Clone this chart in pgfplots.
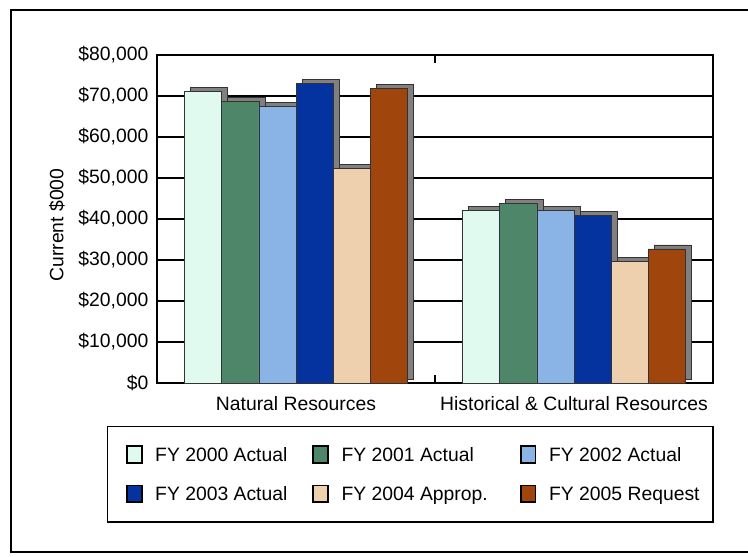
\documentclass[border=0pt]{standalone}
\usepackage{fontspec}
\setmainfont{Liberation Sans}
\usepackage{pgfplots}
\pgfplotsset{compat=1.18}
\usetikzlibrary{shadows}
\definecolor{c0}{HTML}{E0FAF0}
\definecolor{c1}{HTML}{4E866A}
\definecolor{c2}{HTML}{8BB4E6}
\definecolor{c3}{HTML}{0433A0}
\definecolor{c4}{HTML}{EED0AE}
\definecolor{c5}{HTML}{A0460C}
\definecolor{shadowgray}{HTML}{808080}
\newcommand{\lf}{\fontsize{14.5}{17}\selectfont}
\tikzset{myshadow/.style={drop shadow={shadow xshift=4.5pt, shadow yshift=3pt, fill=shadowgray, opacity=1}}}
\pgfplotsset{
  sq/.style={legend image code/.code={\fill[black] (0pt,-6.5pt) rectangle (11.5pt,6.5pt); \fill[#1] (1.4pt,-5.1pt) rectangle (10.1pt,5.1pt); \path (21pt,0pt);}},
  barst/.style={fill=#1, draw=black!80, line width=0.6pt, myshadow, forget plot},
}
\begin{document}
\begin{tikzpicture}
\useasboundingbox (0,0) rectangle (561pt,417pt);
\draw[line width=1.5pt] (570pt,409.5pt) -- (8.25pt,409.5pt) -- (8.25pt,3pt) -- (570pt,3pt);
\begin{axis}[
  at={(117.75pt,129.75pt)}, anchor=south west,
  scale only axis, width=417pt, height=246pt,
  xmin=-0.5, xmax=1.5, ymin=0, ymax=80000,
  enlargelimits=false,
  ybar=0pt, bar width=0.1333,
  axis line style={line width=1.4pt, black},
  ymajorgrids, grid style={line width=1.2pt, black},
  ytick={0,10000,...,80000},
  scaled y ticks=false,
  yticklabel={\$\pgfmathprintnumber[assume math mode=true,1000 sep={,}]{\tick}},
  xtick={0,1},
  xticklabels={Natural Resources, Historical \& Cultural Resources},
  major tick length=0pt,
  extra x ticks={0.5}, extra x tick labels={},
  extra x tick style={major tick length=6pt, tick align=inside, tick style={black, line width=1pt}, grid=none},
  ticklabel style={font=\lf},
  /pgf/number format/assume math mode=true,
  yticklabel style={xshift=-3pt},
  xticklabel style={yshift=-6.25pt},
  ylabel={Current \$000},
  every axis y label/.style={at={([xshift=-75pt,yshift=-4.5pt]rel axis cs:0,0.5)}, rotate=90, anchor=center, font=\lf},
  legend columns=3,
  legend cell align=left,
  legend style={at={(-0.08993,-0.1311)}, anchor=north west, draw=black, line width=1.1pt,
    inner xsep=13.5pt, inner ysep=14pt, row sep=15.25pt, font=\lf,
    nodes={inner sep=0pt}},
]
\addplot[barst=c0, bar shift=-0.33325] coordinates {(0,71050) (1,42000)};
\addplot[barst=c1, bar shift=-0.19995] coordinates {(0,68600) (1,43800)};
\addplot[barst=c2, bar shift=-0.06665] coordinates {(0,67400) (1,42000)};
\addplot[barst=c3, bar shift=0.06665] coordinates {(0,73100) (1,40800)};
\addplot[barst=c4, bar shift=0.19995] coordinates {(0,52400) (1,29600)};
\addplot[barst=c5, bar shift=0.33325] coordinates {(0,71900) (1,32700)};
\addlegendimage{sq=c0}
\addlegendentry{\makebox[117.75pt][l]{\strut FY 2000 Actual}}
\addlegendimage{sq=c1}
\addlegendentry{\makebox[133.5pt][l]{\strut FY 2001 Actual}}
\addlegendimage{sq=c2}
\addlegendentry{\makebox[109.5pt][l]{\strut FY 2002 Actual}}
\addlegendimage{sq=c3}
\addlegendentry{\makebox[117.75pt][l]{\strut FY 2003 Actual}}
\addlegendimage{sq=c4}
\addlegendentry{\makebox[133.5pt][l]{\strut FY 2004 Approp.}}
\addlegendimage{sq=c5}
\addlegendentry{\makebox[109.5pt][l]{\strut FY 2005 Request}}
\end{axis}
\end{tikzpicture}
\end{document}
